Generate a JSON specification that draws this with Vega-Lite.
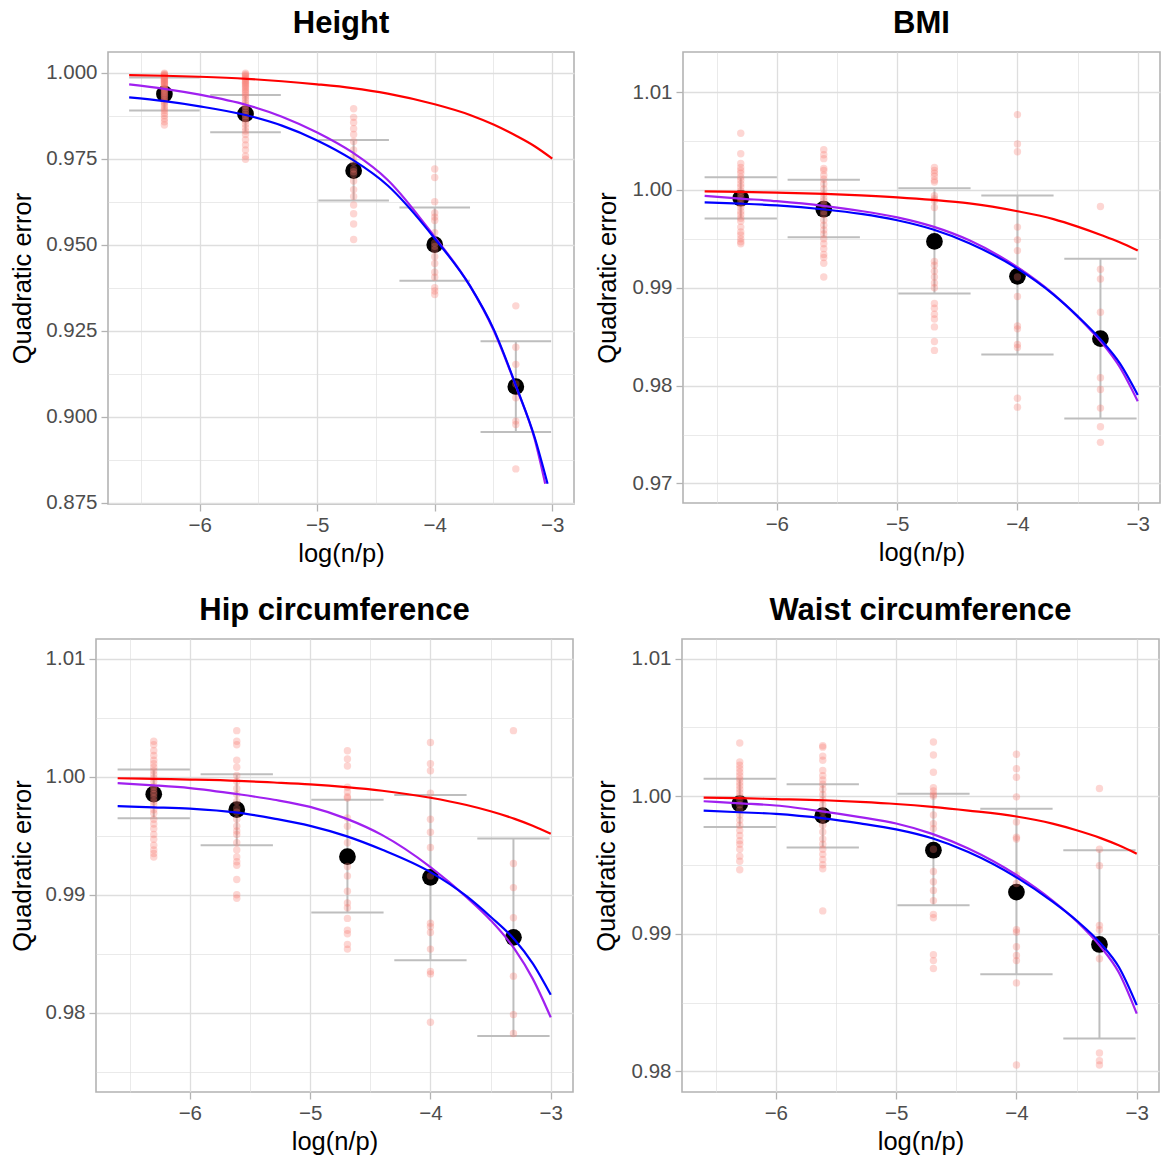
{
"$schema": "https://vega.github.io/schema/vega-lite/v6.json",
"background": "white",
"padding": {"left": 8, "top": 7, "right": 0, "bottom": 0},
"spacing": 26,
"config": {
  "font": "Liberation Sans",
  "view": {"stroke": "#B3B3B3", "strokeWidth": 1.6},
  "axis": {"domain": false, "grid": true, "gridColor": "#DEDEDE", "tickColor": "#B3B3B3", "tickSize": 7, "tickWidth": 1.3, "labelFontSize": 20.5, "labelColor": "#4D4D4D", "labelPadding": 4, "titleFontSize": 25.5, "titleFontWeight": "normal", "titleColor": "#000000", "labelFlush": false, "labelOverlap": false},
  "axisX": {"titlePadding": 6},
  "axisY": {"titlePadding": 12},
  "title": {"fontSize": 31, "fontWeight": "bold", "color": "#000000", "anchor": "middle", "frame": "group", "offset": 12}
},
"datasets": {
"means": [
{"panel":"Height","x":-6.30,"mean":0.9938,"lo":0.9890,"hi":0.9986},
{"panel":"Height","x":-5.61,"mean":0.9880,"lo":0.9827,"hi":0.9935},
{"panel":"Height","x":-4.69,"mean":0.9715,"lo":0.9628,"hi":0.9804},
{"panel":"Height","x":-4.00,"mean":0.9500,"lo":0.9395,"hi":0.9608},
{"panel":"Height","x":-3.31,"mean":0.9087,"lo":0.8955,"hi":0.9219},
{"panel":"BMI","x":-6.30,"mean":0.99915,"lo":0.99709,"hi":1.00129},
{"panel":"BMI","x":-5.61,"mean":0.99803,"lo":0.99516,"hi":1.00104},
{"panel":"BMI","x":-4.69,"mean":0.99474,"lo":0.98942,"hi":1.00017},
{"panel":"BMI","x":-4.00,"mean":0.99117,"lo":0.98319,"hi":0.99943},
{"panel":"BMI","x":-3.31,"mean":0.9848,"lo":0.97665,"hi":0.99296},
{"panel":"Hip","x":-6.30,"mean":0.99852,"lo":0.99648,"hi":1.00061},
{"panel":"Hip","x":-5.61,"mean":0.99721,"lo":0.99419,"hi":1.0002},
{"panel":"Hip","x":-4.69,"mean":0.99323,"lo":0.98849,"hi":0.99805},
{"panel":"Hip","x":-4.00,"mean":0.99148,"lo":0.98445,"hi":0.99846},
{"panel":"Hip","x":-3.31,"mean":0.9864,"lo":0.97805,"hi":0.99477},
{"panel":"Waist","x":-6.30,"mean":0.99945,"lo":0.99776,"hi":1.00127},
{"panel":"Waist","x":-5.61,"mean":0.99858,"lo":0.99627,"hi":1.00087},
{"panel":"Waist","x":-4.69,"mean":0.99607,"lo":0.99208,"hi":1.00017},
{"panel":"Waist","x":-4.00,"mean":0.99303,"lo":0.98706,"hi":0.99908},
{"panel":"Waist","x":-3.31,"mean":0.98922,"lo":0.98238,"hi":0.99607}
],
"curves": [
{"panel":"Height","model":"a","x":-6.6,"y":0.9993},{"panel":"Height","model":"a","x":-6.3,"y":0.9991},{"panel":"Height","model":"a","x":-6.0,"y":0.9988},{"panel":"Height","model":"a","x":-5.6,"y":0.9982},{"panel":"Height","model":"a","x":-5.3,"y":0.9975},{"panel":"Height","model":"a","x":-5.0,"y":0.9966},{"panel":"Height","model":"a","x":-4.7,"y":0.9955},{"panel":"Height","model":"a","x":-4.4,"y":0.9939},{"panel":"Height","model":"a","x":-4.0,"y":0.9908},{"panel":"Height","model":"a","x":-3.7,"y":0.9877},{"panel":"Height","model":"a","x":-3.5,"y":0.9849},{"panel":"Height","model":"a","x":-3.3,"y":0.9815},{"panel":"Height","model":"a","x":-3.15,"y":0.9786},{"panel":"Height","model":"a","x":-3.0,"y":0.9750},
{"panel":"Height","model":"b","x":-6.6,"y":0.9966},{"panel":"Height","model":"b","x":-6.3,"y":0.9953},{"panel":"Height","model":"b","x":-6.0,"y":0.9936},{"panel":"Height","model":"b","x":-5.6,"y":0.9906},{"panel":"Height","model":"b","x":-5.3,"y":0.9872},{"panel":"Height","model":"b","x":-5.0,"y":0.9826},{"panel":"Height","model":"b","x":-4.7,"y":0.9768},{"panel":"Height","model":"b","x":-4.4,"y":0.9688},{"panel":"Height","model":"b","x":-4.0,"y":0.9522},{"panel":"Height","model":"b","x":-3.7,"y":0.9380},{"panel":"Height","model":"b","x":-3.5,"y":0.9252},{"panel":"Height","model":"b","x":-3.3,"y":0.9080},{"panel":"Height","model":"b","x":-3.15,"y":0.8935},{"panel":"Height","model":"b","x":-3.06,"y":0.8805},
{"panel":"Height","model":"c","x":-6.6,"y":0.9928},{"panel":"Height","model":"c","x":-6.3,"y":0.9917},{"panel":"Height","model":"c","x":-6.0,"y":0.9902},{"panel":"Height","model":"c","x":-5.6,"y":0.9876},{"panel":"Height","model":"c","x":-5.3,"y":0.9846},{"panel":"Height","model":"c","x":-5.0,"y":0.9803},{"panel":"Height","model":"c","x":-4.7,"y":0.9747},{"panel":"Height","model":"c","x":-4.4,"y":0.9672},{"panel":"Height","model":"c","x":-4.0,"y":0.9518},{"panel":"Height","model":"c","x":-3.7,"y":0.9380},{"panel":"Height","model":"c","x":-3.5,"y":0.9255},{"panel":"Height","model":"c","x":-3.3,"y":0.9082},{"panel":"Height","model":"c","x":-3.15,"y":0.8940},{"panel":"Height","model":"c","x":-3.04,"y":0.8805},
{"panel":"BMI","model":"a","x":-6.6,"y":0.99985},{"panel":"BMI","model":"a","x":-6.3,"y":0.9998},{"panel":"BMI","model":"a","x":-6.0,"y":0.99972},{"panel":"BMI","model":"a","x":-5.6,"y":0.9996},{"panel":"BMI","model":"a","x":-5.3,"y":0.99945},{"panel":"BMI","model":"a","x":-5.0,"y":0.99925},{"panel":"BMI","model":"a","x":-4.7,"y":0.99898},{"panel":"BMI","model":"a","x":-4.4,"y":0.99862},{"panel":"BMI","model":"a","x":-4.0,"y":0.99782},{"panel":"BMI","model":"a","x":-3.7,"y":0.99702},{"panel":"BMI","model":"a","x":-3.5,"y":0.99625},{"panel":"BMI","model":"a","x":-3.3,"y":0.99537},{"panel":"BMI","model":"a","x":-3.15,"y":0.99465},{"panel":"BMI","model":"a","x":-3.0,"y":0.9938},
{"panel":"BMI","model":"b","x":-6.6,"y":0.9994},{"panel":"BMI","model":"b","x":-6.3,"y":0.99912},{"panel":"BMI","model":"b","x":-6.0,"y":0.99885},{"panel":"BMI","model":"b","x":-5.6,"y":0.99835},{"panel":"BMI","model":"b","x":-5.3,"y":0.99785},{"panel":"BMI","model":"b","x":-5.0,"y":0.9972},{"panel":"BMI","model":"b","x":-4.7,"y":0.99625},{"panel":"BMI","model":"b","x":-4.4,"y":0.99485},{"panel":"BMI","model":"b","x":-4.0,"y":0.9921},{"panel":"BMI","model":"b","x":-3.7,"y":0.98935},{"panel":"BMI","model":"b","x":-3.5,"y":0.98705},{"panel":"BMI","model":"b","x":-3.3,"y":0.9844},{"panel":"BMI","model":"b","x":-3.15,"y":0.9819},{"panel":"BMI","model":"b","x":-3.0,"y":0.9784},
{"panel":"BMI","model":"c","x":-6.6,"y":0.99873},{"panel":"BMI","model":"c","x":-6.3,"y":0.9986},{"panel":"BMI","model":"c","x":-6.0,"y":0.99842},{"panel":"BMI","model":"c","x":-5.6,"y":0.998},{"panel":"BMI","model":"c","x":-5.3,"y":0.99755},{"panel":"BMI","model":"c","x":-5.0,"y":0.9969},{"panel":"BMI","model":"c","x":-4.7,"y":0.99595},{"panel":"BMI","model":"c","x":-4.4,"y":0.99455},{"panel":"BMI","model":"c","x":-4.0,"y":0.99195},{"panel":"BMI","model":"c","x":-3.7,"y":0.9893},{"panel":"BMI","model":"c","x":-3.5,"y":0.9871},{"panel":"BMI","model":"c","x":-3.3,"y":0.9846},{"panel":"BMI","model":"c","x":-3.15,"y":0.9823},{"panel":"BMI","model":"c","x":-3.0,"y":0.97905},
{"panel":"Hip","model":"a","x":-6.6,"y":0.99987},{"panel":"Hip","model":"a","x":-6.3,"y":0.99982},{"panel":"Hip","model":"a","x":-6.0,"y":0.99976},{"panel":"Hip","model":"a","x":-5.6,"y":0.99965},{"panel":"Hip","model":"a","x":-5.3,"y":0.99951},{"panel":"Hip","model":"a","x":-5.0,"y":0.99935},{"panel":"Hip","model":"a","x":-4.7,"y":0.99912},{"panel":"Hip","model":"a","x":-4.4,"y":0.99881},{"panel":"Hip","model":"a","x":-4.0,"y":0.99822},{"panel":"Hip","model":"a","x":-3.7,"y":0.9976},{"panel":"Hip","model":"a","x":-3.5,"y":0.99707},{"panel":"Hip","model":"a","x":-3.3,"y":0.99643},{"panel":"Hip","model":"a","x":-3.15,"y":0.99585},{"panel":"Hip","model":"a","x":-3.0,"y":0.99517},
{"panel":"Hip","model":"b","x":-6.6,"y":0.99945},{"panel":"Hip","model":"b","x":-6.3,"y":0.99927},{"panel":"Hip","model":"b","x":-6.0,"y":0.99904},{"panel":"Hip","model":"b","x":-5.6,"y":0.99852},{"panel":"Hip","model":"b","x":-5.3,"y":0.99805},{"panel":"Hip","model":"b","x":-5.0,"y":0.99744},{"panel":"Hip","model":"b","x":-4.7,"y":0.99645},{"panel":"Hip","model":"b","x":-4.4,"y":0.99505},{"panel":"Hip","model":"b","x":-4.0,"y":0.99235},{"panel":"Hip","model":"b","x":-3.7,"y":0.9898},{"panel":"Hip","model":"b","x":-3.5,"y":0.98785},{"panel":"Hip","model":"b","x":-3.3,"y":0.9854},{"panel":"Hip","model":"b","x":-3.15,"y":0.9829},{"panel":"Hip","model":"b","x":-3.0,"y":0.97962},
{"panel":"Hip","model":"c","x":-6.6,"y":0.9975},{"panel":"Hip","model":"c","x":-6.3,"y":0.99741},{"panel":"Hip","model":"c","x":-6.0,"y":0.9973},{"panel":"Hip","model":"c","x":-5.6,"y":0.99695},{"panel":"Hip","model":"c","x":-5.3,"y":0.99645},{"panel":"Hip","model":"c","x":-5.0,"y":0.99584},{"panel":"Hip","model":"c","x":-4.7,"y":0.99497},{"panel":"Hip","model":"c","x":-4.4,"y":0.99381},{"panel":"Hip","model":"c","x":-4.0,"y":0.99192},{"panel":"Hip","model":"c","x":-3.7,"y":0.98988},{"panel":"Hip","model":"c","x":-3.5,"y":0.98814},{"panel":"Hip","model":"c","x":-3.3,"y":0.9862},{"panel":"Hip","model":"c","x":-3.15,"y":0.9842},{"panel":"Hip","model":"c","x":-3.0,"y":0.98154},
{"panel":"Waist","model":"a","x":-6.6,"y":0.99989},{"panel":"Waist","model":"a","x":-6.3,"y":0.99985},{"panel":"Waist","model":"a","x":-6.0,"y":0.99979},{"panel":"Waist","model":"a","x":-5.6,"y":0.9997},{"panel":"Waist","model":"a","x":-5.3,"y":0.99958},{"panel":"Waist","model":"a","x":-5.0,"y":0.99943},{"panel":"Waist","model":"a","x":-4.7,"y":0.99922},{"panel":"Waist","model":"a","x":-4.4,"y":0.99895},{"panel":"Waist","model":"a","x":-4.0,"y":0.99852},{"panel":"Waist","model":"a","x":-3.7,"y":0.998},{"panel":"Waist","model":"a","x":-3.5,"y":0.99752},{"panel":"Waist","model":"a","x":-3.3,"y":0.99695},{"panel":"Waist","model":"a","x":-3.15,"y":0.99643},{"panel":"Waist","model":"a","x":-3.0,"y":0.99582},
{"panel":"Waist","model":"b","x":-6.6,"y":0.99963},{"panel":"Waist","model":"b","x":-6.3,"y":0.99948},{"panel":"Waist","model":"b","x":-6.0,"y":0.99932},{"panel":"Waist","model":"b","x":-5.6,"y":0.99888},{"panel":"Waist","model":"b","x":-5.3,"y":0.99848},{"panel":"Waist","model":"b","x":-5.0,"y":0.99801},{"panel":"Waist","model":"b","x":-4.7,"y":0.99726},{"panel":"Waist","model":"b","x":-4.4,"y":0.99619},{"panel":"Waist","model":"b","x":-4.0,"y":0.99427},{"panel":"Waist","model":"b","x":-3.7,"y":0.99241},{"panel":"Waist","model":"b","x":-3.5,"y":0.99091},{"panel":"Waist","model":"b","x":-3.3,"y":0.98905},{"panel":"Waist","model":"b","x":-3.15,"y":0.9872},{"panel":"Waist","model":"b","x":-3.0,"y":0.98419},
{"panel":"Waist","model":"c","x":-6.6,"y":0.99895},{"panel":"Waist","model":"c","x":-6.3,"y":0.99883},{"panel":"Waist","model":"c","x":-6.0,"y":0.99871},{"panel":"Waist","model":"c","x":-5.6,"y":0.99838},{"panel":"Waist","model":"c","x":-5.3,"y":0.99802},{"panel":"Waist","model":"c","x":-5.0,"y":0.99759},{"panel":"Waist","model":"c","x":-4.7,"y":0.99694},{"panel":"Waist","model":"c","x":-4.4,"y":0.99594},{"panel":"Waist","model":"c","x":-4.0,"y":0.9941},{"panel":"Waist","model":"c","x":-3.7,"y":0.99233},{"panel":"Waist","model":"c","x":-3.5,"y":0.99096},{"panel":"Waist","model":"c","x":-3.3,"y":0.9893},{"panel":"Waist","model":"c","x":-3.15,"y":0.9876},{"panel":"Waist","model":"c","x":-3.0,"y":0.98481}
],
"pts": [
{"panel":"Height","x":-6.3,"y":0.9998},{"panel":"Height","x":-6.3,"y":0.9996},{"panel":"Height","x":-6.3,"y":0.9994},{"panel":"Height","x":-6.3,"y":0.9992},{"panel":"Height","x":-6.3,"y":0.999},{"panel":"Height","x":-6.3,"y":0.9988},{"panel":"Height","x":-6.3,"y":0.9985},{"panel":"Height","x":-6.3,"y":0.9982},{"panel":"Height","x":-6.3,"y":0.998},{"panel":"Height","x":-6.3,"y":0.9978},{"panel":"Height","x":-6.3,"y":0.9975},{"panel":"Height","x":-6.3,"y":0.9972},{"panel":"Height","x":-6.3,"y":0.997},{"panel":"Height","x":-6.3,"y":0.9967},{"panel":"Height","x":-6.3,"y":0.9964},{"panel":"Height","x":-6.3,"y":0.996},{"panel":"Height","x":-6.3,"y":0.9957},{"panel":"Height","x":-6.3,"y":0.9953},{"panel":"Height","x":-6.3,"y":0.995},{"panel":"Height","x":-6.3,"y":0.9946},{"panel":"Height","x":-6.3,"y":0.9942},{"panel":"Height","x":-6.3,"y":0.9938},{"panel":"Height","x":-6.3,"y":0.9934},{"panel":"Height","x":-6.3,"y":0.993},{"panel":"Height","x":-6.3,"y":0.9925},{"panel":"Height","x":-6.3,"y":0.992},{"panel":"Height","x":-6.3,"y":0.9915},{"panel":"Height","x":-6.3,"y":0.991},{"panel":"Height","x":-6.3,"y":0.9903},{"panel":"Height","x":-6.3,"y":0.9896},{"panel":"Height","x":-6.3,"y":0.989},{"panel":"Height","x":-6.3,"y":0.9882},{"panel":"Height","x":-6.3,"y":0.9875},{"panel":"Height","x":-6.3,"y":0.9866},{"panel":"Height","x":-6.3,"y":0.9857},{"panel":"Height","x":-6.3,"y":0.9848},
{"panel":"Height","x":-5.61,"y":0.9998},{"panel":"Height","x":-5.61,"y":0.9995},{"panel":"Height","x":-5.61,"y":0.9992},{"panel":"Height","x":-5.61,"y":0.9988},{"panel":"Height","x":-5.61,"y":0.9984},{"panel":"Height","x":-5.61,"y":0.998},{"panel":"Height","x":-5.61,"y":0.9976},{"panel":"Height","x":-5.61,"y":0.9972},{"panel":"Height","x":-5.61,"y":0.9968},{"panel":"Height","x":-5.61,"y":0.9964},{"panel":"Height","x":-5.61,"y":0.996},{"panel":"Height","x":-5.61,"y":0.9955},{"panel":"Height","x":-5.61,"y":0.995},{"panel":"Height","x":-5.61,"y":0.9945},{"panel":"Height","x":-5.61,"y":0.994},{"panel":"Height","x":-5.61,"y":0.9934},{"panel":"Height","x":-5.61,"y":0.9928},{"panel":"Height","x":-5.61,"y":0.992},{"panel":"Height","x":-5.61,"y":0.9912},{"panel":"Height","x":-5.61,"y":0.9905},{"panel":"Height","x":-5.61,"y":0.9898},{"panel":"Height","x":-5.61,"y":0.989},{"panel":"Height","x":-5.61,"y":0.9882},{"panel":"Height","x":-5.61,"y":0.9875},{"panel":"Height","x":-5.61,"y":0.9868},{"panel":"Height","x":-5.61,"y":0.986},{"panel":"Height","x":-5.61,"y":0.985},{"panel":"Height","x":-5.61,"y":0.984},{"panel":"Height","x":-5.61,"y":0.983},{"panel":"Height","x":-5.61,"y":0.982},{"panel":"Height","x":-5.61,"y":0.9805},{"panel":"Height","x":-5.61,"y":0.979},{"panel":"Height","x":-5.61,"y":0.9775},{"panel":"Height","x":-5.61,"y":0.9758},{"panel":"Height","x":-5.61,"y":0.9748},
{"panel":"Height","x":-4.69,"y":0.9895},{"panel":"Height","x":-4.69,"y":0.987},{"panel":"Height","x":-4.69,"y":0.9855},{"panel":"Height","x":-4.69,"y":0.9837},{"panel":"Height","x":-4.69,"y":0.982},{"panel":"Height","x":-4.69,"y":0.98},{"panel":"Height","x":-4.69,"y":0.9775},{"panel":"Height","x":-4.69,"y":0.9755},{"panel":"Height","x":-4.69,"y":0.974},{"panel":"Height","x":-4.69,"y":0.972},{"panel":"Height","x":-4.69,"y":0.9712},{"panel":"Height","x":-4.69,"y":0.9705},{"panel":"Height","x":-4.69,"y":0.9685},{"panel":"Height","x":-4.69,"y":0.966},{"panel":"Height","x":-4.69,"y":0.964},{"panel":"Height","x":-4.69,"y":0.9615},{"panel":"Height","x":-4.69,"y":0.959},{"panel":"Height","x":-4.69,"y":0.956},{"panel":"Height","x":-4.69,"y":0.9515},
{"panel":"Height","x":-4.0,"y":0.972},{"panel":"Height","x":-4.0,"y":0.9695},{"panel":"Height","x":-4.0,"y":0.9625},{"panel":"Height","x":-4.0,"y":0.9592},{"panel":"Height","x":-4.0,"y":0.958},{"panel":"Height","x":-4.0,"y":0.957},{"panel":"Height","x":-4.0,"y":0.9535},{"panel":"Height","x":-4.0,"y":0.9505},{"panel":"Height","x":-4.0,"y":0.9495},{"panel":"Height","x":-4.0,"y":0.9485},{"panel":"Height","x":-4.0,"y":0.9465},{"panel":"Height","x":-4.0,"y":0.9445},{"panel":"Height","x":-4.0,"y":0.942},{"panel":"Height","x":-4.0,"y":0.9405},{"panel":"Height","x":-4.0,"y":0.9375},{"panel":"Height","x":-4.0,"y":0.9365},{"panel":"Height","x":-4.0,"y":0.9355},
{"panel":"Height","x":-3.31,"y":0.9322},{"panel":"Height","x":-3.31,"y":0.9202},{"panel":"Height","x":-3.31,"y":0.9152},{"panel":"Height","x":-3.31,"y":0.9095},{"panel":"Height","x":-3.31,"y":0.9055},{"panel":"Height","x":-3.31,"y":0.8987},{"panel":"Height","x":-3.31,"y":0.8977},{"panel":"Height","x":-3.31,"y":0.8848},
{"panel":"BMI","x":-6.3,"y":1.0058},{"panel":"BMI","x":-6.3,"y":1.0037},{"panel":"BMI","x":-6.3,"y":1.0027},{"panel":"BMI","x":-6.3,"y":1.0023},{"panel":"BMI","x":-6.3,"y":1.002},{"panel":"BMI","x":-6.3,"y":1.0017},{"panel":"BMI","x":-6.3,"y":1.0013},{"panel":"BMI","x":-6.3,"y":1.001},{"panel":"BMI","x":-6.3,"y":1.0006},{"panel":"BMI","x":-6.3,"y":1.0003},{"panel":"BMI","x":-6.3,"y":0.9999},{"panel":"BMI","x":-6.3,"y":0.9996},{"panel":"BMI","x":-6.3,"y":0.9992},{"panel":"BMI","x":-6.3,"y":0.9989},{"panel":"BMI","x":-6.3,"y":0.9985},{"panel":"BMI","x":-6.3,"y":0.9982},{"panel":"BMI","x":-6.3,"y":0.9978},{"panel":"BMI","x":-6.3,"y":0.9975},{"panel":"BMI","x":-6.3,"y":0.9971},{"panel":"BMI","x":-6.3,"y":0.9968},{"panel":"BMI","x":-6.3,"y":0.9962},{"panel":"BMI","x":-6.3,"y":0.9957},{"panel":"BMI","x":-6.3,"y":0.9954},{"panel":"BMI","x":-6.3,"y":0.995},{"panel":"BMI","x":-6.3,"y":0.9947},{"panel":"BMI","x":-6.3,"y":0.9945},
{"panel":"BMI","x":-5.61,"y":1.0041},{"panel":"BMI","x":-5.61,"y":1.0036},{"panel":"BMI","x":-5.61,"y":1.0032},{"panel":"BMI","x":-5.61,"y":1.0022},{"panel":"BMI","x":-5.61,"y":1.002},{"panel":"BMI","x":-5.61,"y":1.0015},{"panel":"BMI","x":-5.61,"y":1.0011},{"panel":"BMI","x":-5.61,"y":1.0006},{"panel":"BMI","x":-5.61,"y":1.0001},{"panel":"BMI","x":-5.61,"y":0.9996},{"panel":"BMI","x":-5.61,"y":0.9992},{"panel":"BMI","x":-5.61,"y":0.9989},{"panel":"BMI","x":-5.61,"y":0.9985},{"panel":"BMI","x":-5.61,"y":0.9978},{"panel":"BMI","x":-5.61,"y":0.9975},{"panel":"BMI","x":-5.61,"y":0.9969},{"panel":"BMI","x":-5.61,"y":0.9964},{"panel":"BMI","x":-5.61,"y":0.9959},{"panel":"BMI","x":-5.61,"y":0.9955},{"panel":"BMI","x":-5.61,"y":0.995},{"panel":"BMI","x":-5.61,"y":0.9945},{"panel":"BMI","x":-5.61,"y":0.994},{"panel":"BMI","x":-5.61,"y":0.9934},{"panel":"BMI","x":-5.61,"y":0.9931},{"panel":"BMI","x":-5.61,"y":0.9925},{"panel":"BMI","x":-5.61,"y":0.9911},
{"panel":"BMI","x":-4.69,"y":1.0023},{"panel":"BMI","x":-4.69,"y":1.002},{"panel":"BMI","x":-4.69,"y":1.0017},{"panel":"BMI","x":-4.69,"y":1.0014},{"panel":"BMI","x":-4.69,"y":1.001},{"panel":"BMI","x":-4.69,"y":1.0008},{"panel":"BMI","x":-4.69,"y":0.9994},{"panel":"BMI","x":-4.69,"y":0.9991},{"panel":"BMI","x":-4.69,"y":0.9989},{"panel":"BMI","x":-4.69,"y":0.9982},{"panel":"BMI","x":-4.69,"y":0.9927},{"panel":"BMI","x":-4.69,"y":0.9923},{"panel":"BMI","x":-4.69,"y":0.9917},{"panel":"BMI","x":-4.69,"y":0.9911},{"panel":"BMI","x":-4.69,"y":0.9905},{"panel":"BMI","x":-4.69,"y":0.99},{"panel":"BMI","x":-4.69,"y":0.9884},{"panel":"BMI","x":-4.69,"y":0.9879},{"panel":"BMI","x":-4.69,"y":0.9873},{"panel":"BMI","x":-4.69,"y":0.9868},{"panel":"BMI","x":-4.69,"y":0.986},{"panel":"BMI","x":-4.69,"y":0.9845},{"panel":"BMI","x":-4.69,"y":0.9836},
{"panel":"BMI","x":-4.0,"y":1.0077},{"panel":"BMI","x":-4.0,"y":1.0047},{"panel":"BMI","x":-4.0,"y":1.0039},{"panel":"BMI","x":-4.0,"y":0.9962},{"panel":"BMI","x":-4.0,"y":0.9949},{"panel":"BMI","x":-4.0,"y":0.9938},{"panel":"BMI","x":-4.0,"y":0.9911},{"panel":"BMI","x":-4.0,"y":0.9891},{"panel":"BMI","x":-4.0,"y":0.9861},{"panel":"BMI","x":-4.0,"y":0.9858},{"panel":"BMI","x":-4.0,"y":0.9842},{"panel":"BMI","x":-4.0,"y":0.9839},{"panel":"BMI","x":-4.0,"y":0.9787},{"panel":"BMI","x":-4.0,"y":0.9778},
{"panel":"BMI","x":-3.31,"y":0.9983},{"panel":"BMI","x":-3.31,"y":0.9919},{"panel":"BMI","x":-3.31,"y":0.9909},{"panel":"BMI","x":-3.31,"y":0.9875},{"panel":"BMI","x":-3.31,"y":0.9808},{"panel":"BMI","x":-3.31,"y":0.9796},{"panel":"BMI","x":-3.31,"y":0.9777},{"panel":"BMI","x":-3.31,"y":0.9758},{"panel":"BMI","x":-3.31,"y":0.9742},
{"panel":"Hip","x":-6.3,"y":1.003},{"panel":"Hip","x":-6.3,"y":1.0027},{"panel":"Hip","x":-6.3,"y":1.0022},{"panel":"Hip","x":-6.3,"y":1.0018},{"panel":"Hip","x":-6.3,"y":1.0014},{"panel":"Hip","x":-6.3,"y":1.0011},{"panel":"Hip","x":-6.3,"y":1.0008},{"panel":"Hip","x":-6.3,"y":1.0005},{"panel":"Hip","x":-6.3,"y":1.0002},{"panel":"Hip","x":-6.3,"y":0.9999},{"panel":"Hip","x":-6.3,"y":0.9996},{"panel":"Hip","x":-6.3,"y":0.9992},{"panel":"Hip","x":-6.3,"y":0.999},{"panel":"Hip","x":-6.3,"y":0.9987},{"panel":"Hip","x":-6.3,"y":0.9985},{"panel":"Hip","x":-6.3,"y":0.9982},{"panel":"Hip","x":-6.3,"y":0.9979},{"panel":"Hip","x":-6.3,"y":0.9976},{"panel":"Hip","x":-6.3,"y":0.9972},{"panel":"Hip","x":-6.3,"y":0.9969},{"panel":"Hip","x":-6.3,"y":0.9964},{"panel":"Hip","x":-6.3,"y":0.996},{"panel":"Hip","x":-6.3,"y":0.9956},{"panel":"Hip","x":-6.3,"y":0.9951},{"panel":"Hip","x":-6.3,"y":0.9947},{"panel":"Hip","x":-6.3,"y":0.9942},{"panel":"Hip","x":-6.3,"y":0.9938},{"panel":"Hip","x":-6.3,"y":0.9935},{"panel":"Hip","x":-6.3,"y":0.9932},
{"panel":"Hip","x":-5.61,"y":1.0039},{"panel":"Hip","x":-5.61,"y":1.003},{"panel":"Hip","x":-5.61,"y":1.0027},{"panel":"Hip","x":-5.61,"y":1.0014},{"panel":"Hip","x":-5.61,"y":1.0008},{"panel":"Hip","x":-5.61,"y":1.0001},{"panel":"Hip","x":-5.61,"y":0.9996},{"panel":"Hip","x":-5.61,"y":0.999},{"panel":"Hip","x":-5.61,"y":0.9985},{"panel":"Hip","x":-5.61,"y":0.9979},{"panel":"Hip","x":-5.61,"y":0.9973},{"panel":"Hip","x":-5.61,"y":0.997},{"panel":"Hip","x":-5.61,"y":0.9964},{"panel":"Hip","x":-5.61,"y":0.9958},{"panel":"Hip","x":-5.61,"y":0.9954},{"panel":"Hip","x":-5.61,"y":0.9951},{"panel":"Hip","x":-5.61,"y":0.9944},{"panel":"Hip","x":-5.61,"y":0.9938},{"panel":"Hip","x":-5.61,"y":0.9932},{"panel":"Hip","x":-5.61,"y":0.9928},{"panel":"Hip","x":-5.61,"y":0.9925},{"panel":"Hip","x":-5.61,"y":0.9913},{"panel":"Hip","x":-5.61,"y":0.99},{"panel":"Hip","x":-5.61,"y":0.9897},
{"panel":"Hip","x":-4.69,"y":1.0022},{"panel":"Hip","x":-4.69,"y":1.0015},{"panel":"Hip","x":-4.69,"y":1.0009},{"panel":"Hip","x":-4.69,"y":0.9991},{"panel":"Hip","x":-4.69,"y":0.9987},{"panel":"Hip","x":-4.69,"y":0.9983},{"panel":"Hip","x":-4.69,"y":0.9982},{"panel":"Hip","x":-4.69,"y":0.9965},{"panel":"Hip","x":-4.69,"y":0.9958},{"panel":"Hip","x":-4.69,"y":0.9944},{"panel":"Hip","x":-4.69,"y":0.9924},{"panel":"Hip","x":-4.69,"y":0.9916},{"panel":"Hip","x":-4.69,"y":0.9903},{"panel":"Hip","x":-4.69,"y":0.9893},{"panel":"Hip","x":-4.69,"y":0.9889},{"panel":"Hip","x":-4.69,"y":0.988},{"panel":"Hip","x":-4.69,"y":0.987},{"panel":"Hip","x":-4.69,"y":0.9867},{"panel":"Hip","x":-4.69,"y":0.9858},{"panel":"Hip","x":-4.69,"y":0.9854},
{"panel":"Hip","x":-4.0,"y":1.0029},{"panel":"Hip","x":-4.0,"y":1.0011},{"panel":"Hip","x":-4.0,"y":1.0005},{"panel":"Hip","x":-4.0,"y":0.9986},{"panel":"Hip","x":-4.0,"y":0.9964},{"panel":"Hip","x":-4.0,"y":0.9953},{"panel":"Hip","x":-4.0,"y":0.994},{"panel":"Hip","x":-4.0,"y":0.9916},{"panel":"Hip","x":-4.0,"y":0.9876},{"panel":"Hip","x":-4.0,"y":0.9873},{"panel":"Hip","x":-4.0,"y":0.9868},{"panel":"Hip","x":-4.0,"y":0.9854},{"panel":"Hip","x":-4.0,"y":0.9835},{"panel":"Hip","x":-4.0,"y":0.9833},{"panel":"Hip","x":-4.0,"y":0.9792},
{"panel":"Hip","x":-3.31,"y":1.0039},{"panel":"Hip","x":-3.31,"y":0.99265},{"panel":"Hip","x":-3.31,"y":0.99061},{"panel":"Hip","x":-3.31,"y":0.98805},{"panel":"Hip","x":-3.31,"y":0.98311},{"panel":"Hip","x":-3.31,"y":0.97985},{"panel":"Hip","x":-3.31,"y":0.97826},
{"panel":"Waist","x":-6.3,"y":1.00386},{"panel":"Waist","x":-6.3,"y":1.00249},{"panel":"Waist","x":-6.3,"y":1.00224},{"panel":"Waist","x":-6.3,"y":1.002},{"panel":"Waist","x":-6.3,"y":1.00174},{"panel":"Waist","x":-6.3,"y":1.00149},{"panel":"Waist","x":-6.3,"y":1.00124},{"panel":"Waist","x":-6.3,"y":1.001},{"panel":"Waist","x":-6.3,"y":1.00075},{"panel":"Waist","x":-6.3,"y":1.0005},{"panel":"Waist","x":-6.3,"y":1.00025},{"panel":"Waist","x":-6.3,"y":1.0},{"panel":"Waist","x":-6.3,"y":0.99975},{"panel":"Waist","x":-6.3,"y":0.99938},{"panel":"Waist","x":-6.3,"y":0.999},{"panel":"Waist","x":-6.3,"y":0.99863},{"panel":"Waist","x":-6.3,"y":0.99826},{"panel":"Waist","x":-6.3,"y":0.99788},{"panel":"Waist","x":-6.3,"y":0.99751},{"panel":"Waist","x":-6.3,"y":0.99714},{"panel":"Waist","x":-6.3,"y":0.99676},{"panel":"Waist","x":-6.3,"y":0.99651},{"panel":"Waist","x":-6.3,"y":0.99614},{"panel":"Waist","x":-6.3,"y":0.99564},{"panel":"Waist","x":-6.3,"y":0.99527},{"panel":"Waist","x":-6.3,"y":0.99465},
{"panel":"Waist","x":-5.61,"y":1.00366},{"panel":"Waist","x":-5.61,"y":1.00356},{"panel":"Waist","x":-5.61,"y":1.00291},{"panel":"Waist","x":-5.61,"y":1.00261},{"panel":"Waist","x":-5.61,"y":1.00187},{"panel":"Waist","x":-5.61,"y":1.00149},{"panel":"Waist","x":-5.61,"y":1.00117},{"panel":"Waist","x":-5.61,"y":1.00087},{"panel":"Waist","x":-5.61,"y":1.0005},{"panel":"Waist","x":-5.61,"y":1.00012},{"panel":"Waist","x":-5.61,"y":0.99975},{"panel":"Waist","x":-5.61,"y":0.99938},{"panel":"Waist","x":-5.61,"y":0.99888},{"panel":"Waist","x":-5.61,"y":0.99838},{"panel":"Waist","x":-5.61,"y":0.99788},{"panel":"Waist","x":-5.61,"y":0.99739},{"panel":"Waist","x":-5.61,"y":0.99689},{"panel":"Waist","x":-5.61,"y":0.99651},{"panel":"Waist","x":-5.61,"y":0.99614},{"panel":"Waist","x":-5.61,"y":0.99577},{"panel":"Waist","x":-5.61,"y":0.99539},{"panel":"Waist","x":-5.61,"y":0.99502},{"panel":"Waist","x":-5.61,"y":0.99472},{"panel":"Waist","x":-5.61,"y":0.99166},
{"panel":"Waist","x":-4.69,"y":1.00393},{"panel":"Waist","x":-4.69,"y":1.00299},{"panel":"Waist","x":-4.69,"y":1.00174},{"panel":"Waist","x":-4.69,"y":1.00062},{"panel":"Waist","x":-4.69,"y":1.00037},{"panel":"Waist","x":-4.69,"y":1.00012},{"panel":"Waist","x":-4.69,"y":1.0},{"panel":"Waist","x":-4.69,"y":0.99863},{"panel":"Waist","x":-4.69,"y":0.998},{"panel":"Waist","x":-4.69,"y":0.99764},{"panel":"Waist","x":-4.69,"y":0.99614},{"panel":"Waist","x":-4.69,"y":0.99452},{"panel":"Waist","x":-4.69,"y":0.99378},{"panel":"Waist","x":-4.69,"y":0.99315},{"panel":"Waist","x":-4.69,"y":0.99241},{"panel":"Waist","x":-4.69,"y":0.99141},{"panel":"Waist","x":-4.69,"y":0.99116},{"panel":"Waist","x":-4.69,"y":0.98847},{"panel":"Waist","x":-4.69,"y":0.98805},{"panel":"Waist","x":-4.69,"y":0.98748},
{"panel":"Waist","x":-4.0,"y":1.00304},{"panel":"Waist","x":-4.0,"y":1.002},{"panel":"Waist","x":-4.0,"y":1.00137},{"panel":"Waist","x":-4.0,"y":0.99995},{"panel":"Waist","x":-4.0,"y":0.99813},{"panel":"Waist","x":-4.0,"y":0.99701},{"panel":"Waist","x":-4.0,"y":0.99689},{"panel":"Waist","x":-4.0,"y":0.99427},{"panel":"Waist","x":-4.0,"y":0.99365},{"panel":"Waist","x":-4.0,"y":0.99029},{"panel":"Waist","x":-4.0,"y":0.99012},{"panel":"Waist","x":-4.0,"y":0.98905},{"panel":"Waist","x":-4.0,"y":0.98842},{"panel":"Waist","x":-4.0,"y":0.98805},{"panel":"Waist","x":-4.0,"y":0.98643},{"panel":"Waist","x":-4.0,"y":0.98046},
{"panel":"Waist","x":-3.31,"y":1.00055},{"panel":"Waist","x":-3.31,"y":0.99614},{"panel":"Waist","x":-3.31,"y":0.99495},{"panel":"Waist","x":-3.31,"y":0.99061},{"panel":"Waist","x":-3.31,"y":0.99029},{"panel":"Waist","x":-3.31,"y":0.98818},{"panel":"Waist","x":-3.31,"y":0.98133},{"panel":"Waist","x":-3.31,"y":0.98078},{"panel":"Waist","x":-3.31,"y":0.98046}
]
},
"vconcat": [
{"spacing": 0, "hconcat": [
{"width": 1, "height": 1, "view": {"stroke": null}, "data": {"name": "means"}, "transform": [{"filter": "datum.panel === 'Height'"}], "mark": {"type": "point", "opacity": 0, "size": 1}, "encoding": {}},
{"spacing": 19, "hconcat": [
{"title": "Height", "width": 466, "height": 452,
 "layer": [
  {"data": {"name": "means"}, "transform": [{"filter": "datum.panel === 'Height'"}], "mark": {"type": "rule", "color": "#BEBEBE", "strokeWidth": 2},
   "encoding": {
    "x": {"field": "x", "type": "quantitative", "title": "log(n/p)", "scale": {"domain": [-6.78, -2.815], "nice": false, "zero": false},
          "axis": {"values": [-6.5,-6,-5.5,-5,-4.5,-4,-3.5,-3], "format": ".0f", "labelExpr": "abs(datum.value - round(datum.value)) < 0.001 ? datum.label : ''", "tickOpacity": {"condition": {"test": "abs(datum.value - round(datum.value)) < 0.001", "value": 1}, "value": 0}, "gridWidth": {"condition": {"test": "abs(datum.value - round(datum.value)) < 0.001", "value": 1.3}, "value": 0.65}}},
    "y": {"field": "lo", "type": "quantitative", "title": "Quadratic error", "scale": {"domain": [0.8746, 1.006], "nice": false, "zero": false},
          "axis": {"titlePadding": 10, "values": [0.875,0.8875,0.9,0.9125,0.925,0.9375,0.95,0.9625,0.975,0.9875,1.0], "format": ".3f", "labelExpr": "abs(datum.value*40 - round(datum.value*40)) < 0.001 ? datum.label : ''", "tickOpacity": {"condition": {"test": "abs(datum.value*40 - round(datum.value*40)) < 0.001", "value": 1}, "value": 0}, "gridWidth": {"condition": {"test": "abs(datum.value*40 - round(datum.value*40)) < 0.001", "value": 1.3}, "value": 0.65}}},
    "y2": {"field": "hi"}}},
  {"data": {"name": "means"}, "transform": [{"filter": "datum.panel === 'Height'"}], "mark": {"type": "tick", "orient": "horizontal", "size": 70.6, "thickness": 2, "color": "#BEBEBE", "opacity": 1},
   "encoding": {"x": {"field": "x", "type": "quantitative", "title": "log(n/p)", "scale": {"domain": [-6.78, -2.815], "nice": false, "zero": false}}, "y": {"field": "lo", "type": "quantitative", "title": "Quadratic error", "scale": {"domain": [0.8746, 1.006], "nice": false, "zero": false}}}},
  {"data": {"name": "means"}, "transform": [{"filter": "datum.panel === 'Height'"}], "mark": {"type": "tick", "orient": "horizontal", "size": 70.6, "thickness": 2, "color": "#BEBEBE", "opacity": 1},
   "encoding": {"x": {"field": "x", "type": "quantitative", "title": "log(n/p)", "scale": {"domain": [-6.78, -2.815], "nice": false, "zero": false}}, "y": {"field": "hi", "type": "quantitative", "title": "Quadratic error", "scale": {"domain": [0.8746, 1.006], "nice": false, "zero": false}}}},
  {"data": {"name": "means"}, "transform": [{"filter": "datum.panel === 'Height'"}], "mark": {"type": "circle", "size": 280, "color": "#000000", "opacity": 1},
   "encoding": {"x": {"field": "x", "type": "quantitative", "title": "log(n/p)", "scale": {"domain": [-6.78, -2.815], "nice": false, "zero": false}}, "y": {"field": "mean", "type": "quantitative", "title": "Quadratic error", "scale": {"domain": [0.8746, 1.006], "nice": false, "zero": false}}}},
  {"data": {"name": "pts"}, "transform": [{"filter": "datum.panel === 'Height'"}], "mark": {"type": "circle", "size": 55, "color": "#F8766D", "opacity": 0.3},
   "encoding": {"x": {"field": "x", "type": "quantitative", "title": "log(n/p)", "scale": {"domain": [-6.78, -2.815], "nice": false, "zero": false}}, "y": {"field": "y", "type": "quantitative", "title": "Quadratic error", "scale": {"domain": [0.8746, 1.006], "nice": false, "zero": false}}}},
  {"data": {"name": "curves"}, "transform": [{"filter": "datum.panel === 'Height'"}], "mark": {"type": "line", "strokeWidth": 2.2, "interpolate": "monotone"},
   "encoding": {"x": {"field": "x", "type": "quantitative", "title": "log(n/p)", "scale": {"domain": [-6.78, -2.815], "nice": false, "zero": false}}, "y": {"field": "y", "type": "quantitative", "title": "Quadratic error", "scale": {"domain": [0.8746, 1.006], "nice": false, "zero": false}},
    "color": {"field": "model", "type": "nominal", "scale": {"domain": ["a","b","c"], "range": ["#FF0000","#A020F0","#0000FF"]}, "legend": null}}}
 ]},
{"title": "BMI", "width": 477, "height": 451,
 "layer": [
  {"data": {"name": "means"}, "transform": [{"filter": "datum.panel === 'BMI'"}], "mark": {"type": "rule", "color": "#BEBEBE", "strokeWidth": 2},
   "encoding": {
    "x": {"field": "x", "type": "quantitative", "title": "log(n/p)", "scale": {"domain": [-6.78, -2.815], "nice": false, "zero": false},
          "axis": {"values": [-6.5,-6,-5.5,-5,-4.5,-4,-3.5,-3], "format": ".0f", "labelExpr": "abs(datum.value - round(datum.value)) < 0.001 ? datum.label : ''", "tickOpacity": {"condition": {"test": "abs(datum.value - round(datum.value)) < 0.001", "value": 1}, "value": 0}, "gridWidth": {"condition": {"test": "abs(datum.value - round(datum.value)) < 0.001", "value": 1.3}, "value": 0.65}}},
    "y": {"field": "lo", "type": "quantitative", "title": "Quadratic error", "scale": {"domain": [0.968, 1.0141], "nice": false, "zero": false},
          "axis": {"values": [0.97,0.975,0.98,0.985,0.99,0.995,1.0,1.005,1.01], "format": ".2f", "labelExpr": "abs(datum.value*100 - round(datum.value*100)) < 0.001 ? datum.label : ''", "tickOpacity": {"condition": {"test": "abs(datum.value*100 - round(datum.value*100)) < 0.001", "value": 1}, "value": 0}, "gridWidth": {"condition": {"test": "abs(datum.value*100 - round(datum.value*100)) < 0.001", "value": 1.3}, "value": 0.65}}},
    "y2": {"field": "hi"}}},
  {"data": {"name": "means"}, "transform": [{"filter": "datum.panel === 'BMI'"}], "mark": {"type": "tick", "orient": "horizontal", "size": 72.3, "thickness": 2, "color": "#BEBEBE", "opacity": 1},
   "encoding": {"x": {"field": "x", "type": "quantitative", "title": "log(n/p)", "scale": {"domain": [-6.78, -2.815], "nice": false, "zero": false}}, "y": {"field": "lo", "type": "quantitative", "title": "Quadratic error", "scale": {"domain": [0.968, 1.0141], "nice": false, "zero": false}}}},
  {"data": {"name": "means"}, "transform": [{"filter": "datum.panel === 'BMI'"}], "mark": {"type": "tick", "orient": "horizontal", "size": 72.3, "thickness": 2, "color": "#BEBEBE", "opacity": 1},
   "encoding": {"x": {"field": "x", "type": "quantitative", "title": "log(n/p)", "scale": {"domain": [-6.78, -2.815], "nice": false, "zero": false}}, "y": {"field": "hi", "type": "quantitative", "title": "Quadratic error", "scale": {"domain": [0.968, 1.0141], "nice": false, "zero": false}}}},
  {"data": {"name": "means"}, "transform": [{"filter": "datum.panel === 'BMI'"}], "mark": {"type": "circle", "size": 280, "color": "#000000", "opacity": 1},
   "encoding": {"x": {"field": "x", "type": "quantitative", "title": "log(n/p)", "scale": {"domain": [-6.78, -2.815], "nice": false, "zero": false}}, "y": {"field": "mean", "type": "quantitative", "title": "Quadratic error", "scale": {"domain": [0.968, 1.0141], "nice": false, "zero": false}}}},
  {"data": {"name": "pts"}, "transform": [{"filter": "datum.panel === 'BMI'"}], "mark": {"type": "circle", "size": 55, "color": "#F8766D", "opacity": 0.3},
   "encoding": {"x": {"field": "x", "type": "quantitative", "title": "log(n/p)", "scale": {"domain": [-6.78, -2.815], "nice": false, "zero": false}}, "y": {"field": "y", "type": "quantitative", "title": "Quadratic error", "scale": {"domain": [0.968, 1.0141], "nice": false, "zero": false}}}},
  {"data": {"name": "curves"}, "transform": [{"filter": "datum.panel === 'BMI'"}], "mark": {"type": "line", "strokeWidth": 2.2, "interpolate": "monotone"},
   "encoding": {"x": {"field": "x", "type": "quantitative", "title": "log(n/p)", "scale": {"domain": [-6.78, -2.815], "nice": false, "zero": false}}, "y": {"field": "y", "type": "quantitative", "title": "Quadratic error", "scale": {"domain": [0.968, 1.0141], "nice": false, "zero": false}},
    "color": {"field": "model", "type": "nominal", "scale": {"domain": ["a","b","c"], "range": ["#FF0000","#A020F0","#0000FF"]}, "legend": null}}}
 ]}
]}
]},
{"spacing": 0, "hconcat": [
{"width": 1, "height": 1, "view": {"stroke": null}, "data": {"name": "means"}, "transform": [{"filter": "datum.panel === 'Hip'"}], "mark": {"type": "point", "opacity": 0, "size": 1}, "encoding": {}},
{"spacing": 19, "hconcat": [
{"title": "Hip circumference", "width": 477, "height": 453,
 "layer": [
  {"data": {"name": "means"}, "transform": [{"filter": "datum.panel === 'Hip'"}], "mark": {"type": "rule", "color": "#BEBEBE", "strokeWidth": 2},
   "encoding": {
    "x": {"field": "x", "type": "quantitative", "title": "log(n/p)", "scale": {"domain": [-6.78, -2.815], "nice": false, "zero": false},
          "axis": {"values": [-6.5,-6,-5.5,-5,-4.5,-4,-3.5,-3], "format": ".0f", "labelExpr": "abs(datum.value - round(datum.value)) < 0.001 ? datum.label : ''", "tickOpacity": {"condition": {"test": "abs(datum.value - round(datum.value)) < 0.001", "value": 1}, "value": 0}, "gridWidth": {"condition": {"test": "abs(datum.value - round(datum.value)) < 0.001", "value": 1.3}, "value": 0.65}}},
    "y": {"field": "lo", "type": "quantitative", "title": "Quadratic error", "scale": {"domain": [0.9733, 1.01166], "nice": false, "zero": false},
          "axis": {"titlePadding": 10, "values": [0.975,0.98,0.985,0.99,0.995,1.0,1.005,1.01], "format": ".2f", "labelExpr": "abs(datum.value*100 - round(datum.value*100)) < 0.001 ? datum.label : ''", "tickOpacity": {"condition": {"test": "abs(datum.value*100 - round(datum.value*100)) < 0.001", "value": 1}, "value": 0}, "gridWidth": {"condition": {"test": "abs(datum.value*100 - round(datum.value*100)) < 0.001", "value": 1.3}, "value": 0.65}}},
    "y2": {"field": "hi"}}},
  {"data": {"name": "means"}, "transform": [{"filter": "datum.panel === 'Hip'"}], "mark": {"type": "tick", "orient": "horizontal", "size": 72.3, "thickness": 2, "color": "#BEBEBE", "opacity": 1},
   "encoding": {"x": {"field": "x", "type": "quantitative", "title": "log(n/p)", "scale": {"domain": [-6.78, -2.815], "nice": false, "zero": false}}, "y": {"field": "lo", "type": "quantitative", "title": "Quadratic error", "scale": {"domain": [0.9733, 1.01166], "nice": false, "zero": false}}}},
  {"data": {"name": "means"}, "transform": [{"filter": "datum.panel === 'Hip'"}], "mark": {"type": "tick", "orient": "horizontal", "size": 72.3, "thickness": 2, "color": "#BEBEBE", "opacity": 1},
   "encoding": {"x": {"field": "x", "type": "quantitative", "title": "log(n/p)", "scale": {"domain": [-6.78, -2.815], "nice": false, "zero": false}}, "y": {"field": "hi", "type": "quantitative", "title": "Quadratic error", "scale": {"domain": [0.9733, 1.01166], "nice": false, "zero": false}}}},
  {"data": {"name": "means"}, "transform": [{"filter": "datum.panel === 'Hip'"}], "mark": {"type": "circle", "size": 280, "color": "#000000", "opacity": 1},
   "encoding": {"x": {"field": "x", "type": "quantitative", "title": "log(n/p)", "scale": {"domain": [-6.78, -2.815], "nice": false, "zero": false}}, "y": {"field": "mean", "type": "quantitative", "title": "Quadratic error", "scale": {"domain": [0.9733, 1.01166], "nice": false, "zero": false}}}},
  {"data": {"name": "pts"}, "transform": [{"filter": "datum.panel === 'Hip'"}], "mark": {"type": "circle", "size": 55, "color": "#F8766D", "opacity": 0.3},
   "encoding": {"x": {"field": "x", "type": "quantitative", "title": "log(n/p)", "scale": {"domain": [-6.78, -2.815], "nice": false, "zero": false}}, "y": {"field": "y", "type": "quantitative", "title": "Quadratic error", "scale": {"domain": [0.9733, 1.01166], "nice": false, "zero": false}}}},
  {"data": {"name": "curves"}, "transform": [{"filter": "datum.panel === 'Hip'"}], "mark": {"type": "line", "strokeWidth": 2.2, "interpolate": "monotone"},
   "encoding": {"x": {"field": "x", "type": "quantitative", "title": "log(n/p)", "scale": {"domain": [-6.78, -2.815], "nice": false, "zero": false}}, "y": {"field": "y", "type": "quantitative", "title": "Quadratic error", "scale": {"domain": [0.9733, 1.01166], "nice": false, "zero": false}},
    "color": {"field": "model", "type": "nominal", "scale": {"domain": ["a","b","c"], "range": ["#FF0000","#A020F0","#0000FF"]}, "legend": null}}}
 ]},
{"title": "Waist circumference", "width": 477, "height": 453,
 "layer": [
  {"data": {"name": "means"}, "transform": [{"filter": "datum.panel === 'Waist'"}], "mark": {"type": "rule", "color": "#BEBEBE", "strokeWidth": 2},
   "encoding": {
    "x": {"field": "x", "type": "quantitative", "title": "log(n/p)", "scale": {"domain": [-6.78, -2.815], "nice": false, "zero": false},
          "axis": {"values": [-6.5,-6,-5.5,-5,-4.5,-4,-3.5,-3], "format": ".0f", "labelExpr": "abs(datum.value - round(datum.value)) < 0.001 ? datum.label : ''", "tickOpacity": {"condition": {"test": "abs(datum.value - round(datum.value)) < 0.001", "value": 1}, "value": 0}, "gridWidth": {"condition": {"test": "abs(datum.value - round(datum.value)) < 0.001", "value": 1.3}, "value": 0.65}}},
    "y": {"field": "lo", "type": "quantitative", "title": "Quadratic error", "scale": {"domain": [0.9785, 1.01142], "nice": false, "zero": false},
          "axis": {"values": [0.98,0.985,0.99,0.995,1.0,1.005,1.01], "format": ".2f", "labelExpr": "abs(datum.value*100 - round(datum.value*100)) < 0.001 ? datum.label : ''", "tickOpacity": {"condition": {"test": "abs(datum.value*100 - round(datum.value*100)) < 0.001", "value": 1}, "value": 0}, "gridWidth": {"condition": {"test": "abs(datum.value*100 - round(datum.value*100)) < 0.001", "value": 1.3}, "value": 0.65}}},
    "y2": {"field": "hi"}}},
  {"data": {"name": "means"}, "transform": [{"filter": "datum.panel === 'Waist'"}], "mark": {"type": "tick", "orient": "horizontal", "size": 72.3, "thickness": 2, "color": "#BEBEBE", "opacity": 1},
   "encoding": {"x": {"field": "x", "type": "quantitative", "title": "log(n/p)", "scale": {"domain": [-6.78, -2.815], "nice": false, "zero": false}}, "y": {"field": "lo", "type": "quantitative", "title": "Quadratic error", "scale": {"domain": [0.9785, 1.01142], "nice": false, "zero": false}}}},
  {"data": {"name": "means"}, "transform": [{"filter": "datum.panel === 'Waist'"}], "mark": {"type": "tick", "orient": "horizontal", "size": 72.3, "thickness": 2, "color": "#BEBEBE", "opacity": 1},
   "encoding": {"x": {"field": "x", "type": "quantitative", "title": "log(n/p)", "scale": {"domain": [-6.78, -2.815], "nice": false, "zero": false}}, "y": {"field": "hi", "type": "quantitative", "title": "Quadratic error", "scale": {"domain": [0.9785, 1.01142], "nice": false, "zero": false}}}},
  {"data": {"name": "means"}, "transform": [{"filter": "datum.panel === 'Waist'"}], "mark": {"type": "circle", "size": 280, "color": "#000000", "opacity": 1},
   "encoding": {"x": {"field": "x", "type": "quantitative", "title": "log(n/p)", "scale": {"domain": [-6.78, -2.815], "nice": false, "zero": false}}, "y": {"field": "mean", "type": "quantitative", "title": "Quadratic error", "scale": {"domain": [0.9785, 1.01142], "nice": false, "zero": false}}}},
  {"data": {"name": "pts"}, "transform": [{"filter": "datum.panel === 'Waist'"}], "mark": {"type": "circle", "size": 55, "color": "#F8766D", "opacity": 0.3},
   "encoding": {"x": {"field": "x", "type": "quantitative", "title": "log(n/p)", "scale": {"domain": [-6.78, -2.815], "nice": false, "zero": false}}, "y": {"field": "y", "type": "quantitative", "title": "Quadratic error", "scale": {"domain": [0.9785, 1.01142], "nice": false, "zero": false}}}},
  {"data": {"name": "curves"}, "transform": [{"filter": "datum.panel === 'Waist'"}], "mark": {"type": "line", "strokeWidth": 2.2, "interpolate": "monotone"},
   "encoding": {"x": {"field": "x", "type": "quantitative", "title": "log(n/p)", "scale": {"domain": [-6.78, -2.815], "nice": false, "zero": false}}, "y": {"field": "y", "type": "quantitative", "title": "Quadratic error", "scale": {"domain": [0.9785, 1.01142], "nice": false, "zero": false}},
    "color": {"field": "model", "type": "nominal", "scale": {"domain": ["a","b","c"], "range": ["#FF0000","#A020F0","#0000FF"]}, "legend": null}}}
 ]}
]}
]}
]
}
